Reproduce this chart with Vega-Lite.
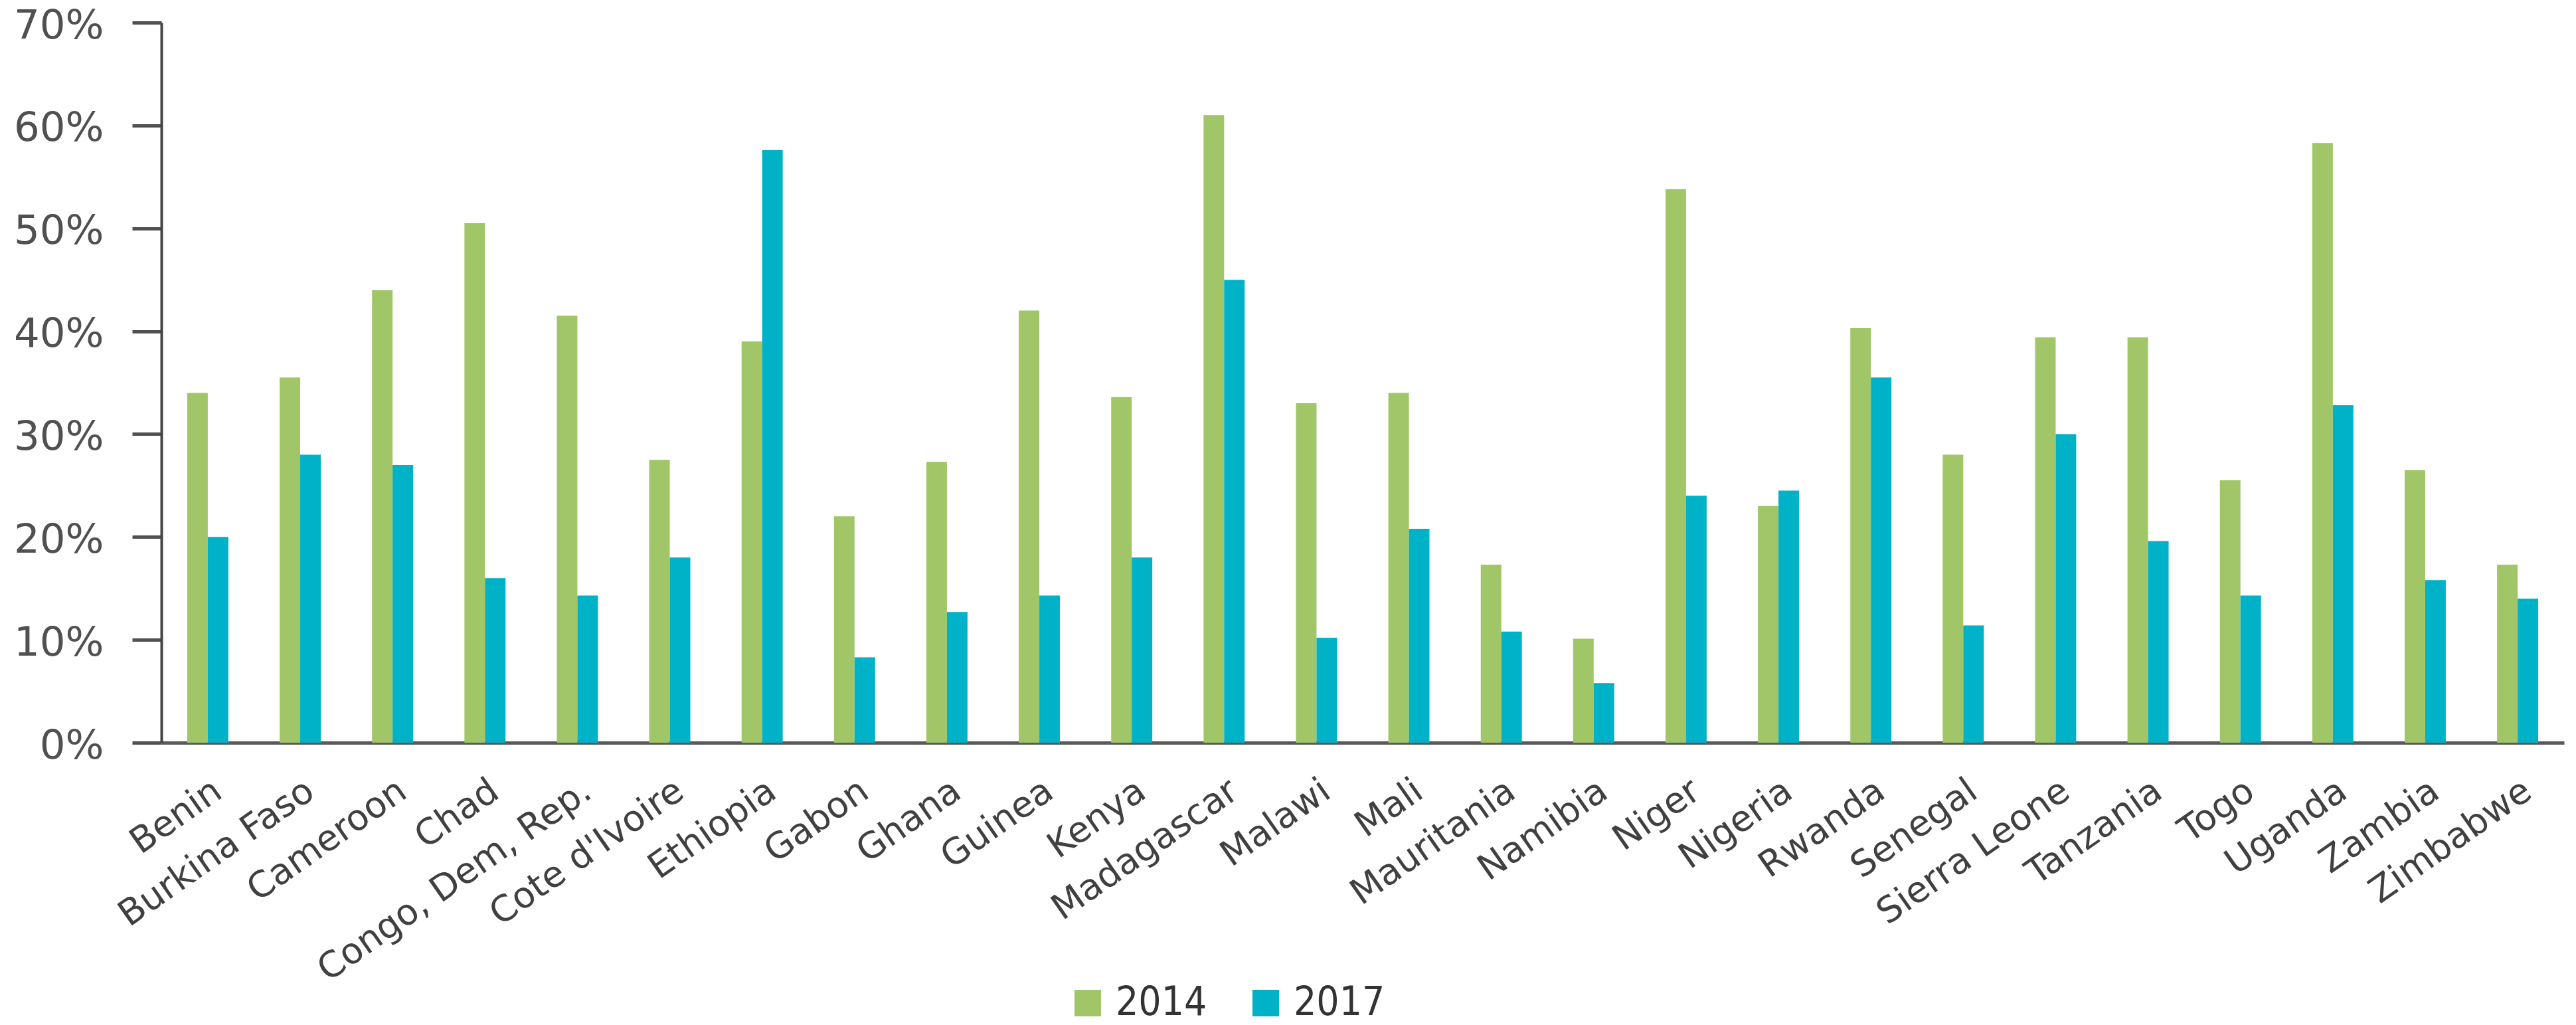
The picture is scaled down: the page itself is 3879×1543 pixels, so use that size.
{
  "$schema": "https://vega.github.io/schema/vega-lite/v6.json",
  "width": 3618,
  "height": 1084,
  "padding": {"left": 20, "top": 8, "right": 21, "bottom": 10},
  "background": "white",
  "config": {"view": {"stroke": null}},
  "data": {
    "values": [
      {"country": "Benin", "year": "2014", "value": 34},
      {"country": "Benin", "year": "2017", "value": 20},
      {"country": "Burkina Faso", "year": "2014", "value": 35.5},
      {"country": "Burkina Faso", "year": "2017", "value": 28},
      {"country": "Cameroon", "year": "2014", "value": 44},
      {"country": "Cameroon", "year": "2017", "value": 27},
      {"country": "Chad", "year": "2014", "value": 50.5},
      {"country": "Chad", "year": "2017", "value": 16},
      {"country": "Congo, Dem, Rep.", "year": "2014", "value": 41.5},
      {"country": "Congo, Dem, Rep.", "year": "2017", "value": 14.3},
      {"country": "Cote d'Ivoire", "year": "2014", "value": 27.5},
      {"country": "Cote d'Ivoire", "year": "2017", "value": 18},
      {"country": "Ethiopia", "year": "2014", "value": 39},
      {"country": "Ethiopia", "year": "2017", "value": 57.6},
      {"country": "Gabon", "year": "2014", "value": 22},
      {"country": "Gabon", "year": "2017", "value": 8.3},
      {"country": "Ghana", "year": "2014", "value": 27.3},
      {"country": "Ghana", "year": "2017", "value": 12.7},
      {"country": "Guinea", "year": "2014", "value": 42},
      {"country": "Guinea", "year": "2017", "value": 14.3},
      {"country": "Kenya", "year": "2014", "value": 33.6},
      {"country": "Kenya", "year": "2017", "value": 18},
      {"country": "Madagascar", "year": "2014", "value": 61},
      {"country": "Madagascar", "year": "2017", "value": 45},
      {"country": "Malawi", "year": "2014", "value": 33},
      {"country": "Malawi", "year": "2017", "value": 10.2},
      {"country": "Mali", "year": "2014", "value": 34},
      {"country": "Mali", "year": "2017", "value": 20.8},
      {"country": "Mauritania", "year": "2014", "value": 17.3},
      {"country": "Mauritania", "year": "2017", "value": 10.8},
      {"country": "Namibia", "year": "2014", "value": 10.1},
      {"country": "Namibia", "year": "2017", "value": 5.8},
      {"country": "Niger", "year": "2014", "value": 53.8},
      {"country": "Niger", "year": "2017", "value": 24},
      {"country": "Nigeria", "year": "2014", "value": 23},
      {"country": "Nigeria", "year": "2017", "value": 24.5},
      {"country": "Rwanda", "year": "2014", "value": 40.3},
      {"country": "Rwanda", "year": "2017", "value": 35.5},
      {"country": "Senegal", "year": "2014", "value": 28},
      {"country": "Senegal", "year": "2017", "value": 11.4},
      {"country": "Sierra Leone", "year": "2014", "value": 39.4},
      {"country": "Sierra Leone", "year": "2017", "value": 30},
      {"country": "Tanzania", "year": "2014", "value": 39.4},
      {"country": "Tanzania", "year": "2017", "value": 19.6},
      {"country": "Togo", "year": "2014", "value": 25.5},
      {"country": "Togo", "year": "2017", "value": 14.3},
      {"country": "Uganda", "year": "2014", "value": 58.3},
      {"country": "Uganda", "year": "2017", "value": 32.8},
      {"country": "Zambia", "year": "2014", "value": 26.5},
      {"country": "Zambia", "year": "2017", "value": 15.8},
      {"country": "Zimbabwe", "year": "2014", "value": 17.3},
      {"country": "Zimbabwe", "year": "2017", "value": 14}
    ]
  },
  "mark": {"type": "bar"},
  "encoding": {
    "x": {
      "field": "country",
      "type": "nominal",
      "sort": null,
      "scale": {"paddingInner": 0.555, "paddingOuter": 0.28},
      "axis": {
        "title": null,
        "labelAngle": -35,
        "labelFont": "DejaVu Sans",
        "labelFontSize": 54,
        "labelColor": "#404040",
        "labelPadding": 45,
        "labelOffset": 0,
        "labelLimit": 1000,
        "ticks": false,
        "domainColor": "#5a5a5a",
        "domainWidth": 5,
        "grid": false
      }
    },
    "xOffset": {"field": "year", "type": "nominal"},
    "y": {
      "field": "value",
      "type": "quantitative",
      "scale": {"domain": [0, 70], "nice": false},
      "axis": {
        "title": null,
        "values": [0, 10, 20, 30, 40, 50, 60, 70],
        "labelExpr": "datum.value + '%'",
        "labelFont": "DejaVu Sans",
        "labelFontSize": 61,
        "labelColor": "#505050",
        "labelPadding": 43,
        "labelOffset": 5,
        "tickSize": 44,
        "tickWidth": 5,
        "tickColor": "#505050",
        "domainColor": "#454545",
        "domainWidth": 4,
        "grid": false
      }
    },
    "color": {
      "field": "year",
      "type": "nominal",
      "scale": {"domain": ["2014", "2017"], "range": ["#A0C668", "#00B2C7"]},
      "legend": {
        "title": null,
        "orient": "none",
        "direction": "horizontal",
        "legendX": 1365,
        "legendY": 1446,
        "symbolType": "square",
        "symbolSize": 1600,
        "symbolStrokeWidth": 0,
        "labelFont": "DejaVu Sans Condensed",
        "labelFontSize": 60,
        "labelColor": "#333333",
        "labelOffset": 12,
        "columnPadding": 58
      }
    }
  }
}
